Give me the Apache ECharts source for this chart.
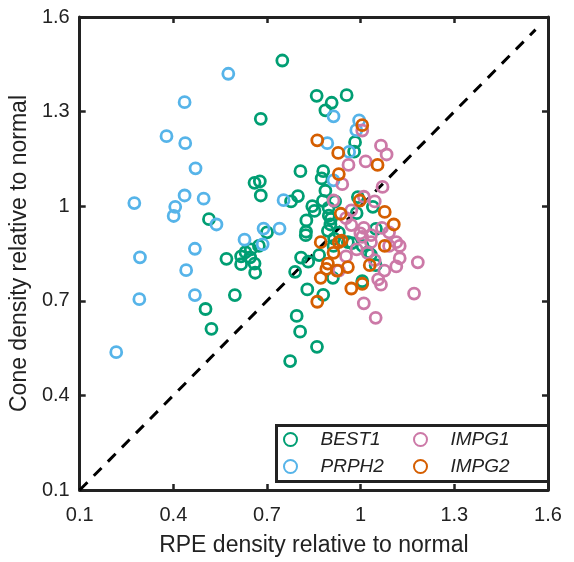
<!DOCTYPE html>
<html>
<head>
<meta charset="utf-8">
<script src="https://cdn.jsdelivr.net/npm/echarts@6/dist/echarts.min.js"></script>
<style>
  html, body { margin: 0; padding: 0; background: #fff; }
  #chart { width: 574px; height: 562px; }
</style>
</head>
<body>
<div id="chart"></div>
<script>
// [RPE density, cone density] pairs, relative to normal
var best1 = [
  [0.749, 1.462], [0.859, 1.350], [0.955, 1.352], [0.907, 1.328], [0.887, 1.304],
  [0.680, 1.277], [0.982, 1.203], [0.979, 1.173], [0.807, 1.111], [0.880, 1.111],
  [0.875, 1.088], [0.660, 1.074], [0.677, 1.079], [0.680, 1.034], [0.799, 1.032],
  [0.777, 1.015], [0.887, 1.049], [0.845, 1.000], [0.852, 0.985], [0.879, 1.017],
  [0.897, 0.995], [0.918, 1.015], [0.991, 1.029], [0.987, 0.978], [1.039, 0.998],
  [0.898, 0.970], [0.903, 0.942], [0.826, 0.955], [0.825, 0.919], [0.824, 0.908],
  [0.895, 0.922], [0.930, 0.916], [1.049, 0.928], [0.959, 0.886], [0.972, 0.883],
  [1.006, 0.874], [1.024, 0.854], [1.033, 0.846], [1.048, 0.813], [1.005, 0.762],
  [0.911, 0.773], [0.514, 0.959], [0.570, 0.833], [0.617, 0.841], [0.617, 0.816],
  [0.631, 0.854], [0.648, 0.863], [0.646, 0.838], [0.660, 0.818], [0.674, 0.874],
  [0.662, 0.789], [0.700, 0.917], [0.597, 0.718], [0.503, 0.674], [0.522, 0.611],
  [0.795, 0.652], [0.806, 0.602], [0.860, 0.554], [0.774, 0.509], [0.829, 0.736],
  [0.880, 0.719], [0.790, 0.792], [0.809, 0.837], [0.832, 0.824], [0.867, 0.845],
  [0.913, 0.874], [0.915, 0.897], [0.905, 0.960]
];
var prph2 = [
  [0.576, 1.420], [0.436, 1.330], [0.378, 1.222], [0.438, 1.200], [0.471, 1.120],
  [0.275, 1.010], [0.406, 0.998], [0.401, 0.969], [0.436, 1.034], [0.497, 1.024],
  [0.538, 0.942], [0.293, 0.838], [0.469, 0.865], [0.441, 0.797], [0.469, 0.718],
  [0.291, 0.705], [0.217, 0.537], [0.628, 0.894], [0.689, 0.929], [0.740, 0.929],
  [0.753, 1.019], [0.913, 1.285], [0.995, 1.272], [0.986, 1.241], [0.893, 1.200],
  [0.963, 1.172], [0.913, 1.082], [0.686, 0.879]
];
var impg1 = [
  [1.005, 1.240], [1.065, 1.192], [1.083, 1.164], [0.961, 1.131], [1.016, 1.142],
  [0.941, 1.070], [1.070, 1.061], [0.913, 1.018], [1.010, 1.030], [1.045, 1.015],
  [0.970, 0.987], [0.953, 0.962], [0.970, 0.940], [1.010, 0.931], [0.999, 0.914],
  [1.033, 0.908], [1.068, 0.931], [1.091, 0.917], [1.114, 0.886], [1.125, 0.874],
  [1.125, 0.835], [1.114, 0.809], [1.076, 0.796], [1.056, 0.768], [1.065, 0.751],
  [1.183, 0.822], [1.171, 0.723], [1.010, 0.692], [1.048, 0.646], [0.930, 0.796],
  [0.953, 0.841], [0.987, 0.863], [1.022, 0.852], [1.045, 0.829], [1.033, 0.886],
  [1.005, 0.903], [1.091, 0.874]
];
var impg2 = [
  [1.005, 1.257], [0.861, 1.209], [0.928, 1.169], [1.054, 1.131], [0.930, 1.102],
  [0.997, 1.018], [0.936, 0.976], [1.077, 0.982], [1.106, 0.942], [1.077, 0.874],
  [0.872, 0.886], [0.930, 0.886], [0.939, 0.891], [0.913, 0.852], [0.895, 0.818],
  [0.890, 0.801], [0.872, 0.773], [0.924, 0.796], [0.959, 0.807], [0.970, 0.739],
  [1.005, 0.754], [1.029, 0.813], [0.861, 0.697]
];
var unityLine = [[0.1, 0.1], [1.56, 1.56]];

var colors = { BEST1: '#009E73', PRPH2: '#56B4E9', IMPG1: '#CC79A7', IMPG2: '#D55E00' };
var font = 'Liberation Sans, Arial, sans-serif';

function ring(name, data) {
  return {
    name: name, type: 'scatter', data: data,
    symbol: 'circle', symbolSize: 11,
    itemStyle: { color: 'rgba(255,255,255,0)', borderColor: colors[name], borderWidth: 2.8, opacity: 1 },
    emphasis: { disabled: true }, z: 3
  };
}

function axisBase(extra) {
  var a = {
    type: 'value', min: 0.1, max: 1.6, interval: 0.3,
    axisLine: { show: true, onZero: false, lineStyle: { color: '#222', width: 3 } },
    axisTick: { show: true, inside: true, length: 6, lineStyle: { color: '#222', width: 2.5 } },
    splitLine: { show: false },
    axisLabel: { show: false }
  };
  for (var k in extra) a[k] = extra[k];
  return a;
}

var legendText = { fontFamily: font, fontSize: 19, fontStyle: 'italic', color: '#222' };

var chart = echarts.init(document.getElementById('chart'));
chart.setOption({
  backgroundColor: '#fff',
  animation: false,
  grid: { left: 78, top: 17, width: 470, height: 477 },
  xAxis: [
    axisBase({
      position: 'bottom',
      name: 'RPE density relative to normal', nameLocation: 'middle', nameGap: 44,
      nameTextStyle: { fontFamily: font, fontSize: 23, color: '#222' },
      axisLabel: { show: true, margin: 15, fontFamily: font, fontSize: 20, color: '#222' }
    }),
    axisBase({ position: 'top' })
  ],
  yAxis: [
    axisBase({
      position: 'left',
      name: 'Cone density relative to normal', nameLocation: 'middle', nameGap: 41,
      nameTextStyle: { fontFamily: font, fontSize: 23, color: '#222' },
      axisLabel: { show: true, margin: 10, fontFamily: font, fontSize: 20, color: '#222' }
    }),
    axisBase({ position: 'right' })
  ],
  legend: [
    {
      data: ['BEST1', 'PRPH2'], orient: 'vertical', left: 283, top: 430, padding: 0,
      itemWidth: 50, itemHeight: 13, itemGap: 8, textStyle: legendText,
      selectedMode: false
    },
    {
      data: ['IMPG1', 'IMPG2'], orient: 'vertical', left: 413, top: 430, padding: 0,
      itemWidth: 50, itemHeight: 13, itemGap: 8, textStyle: legendText,
      selectedMode: false
    }
  ],
  graphic: [{
    type: 'rect', left: 275, top: 424, z: 10,
    shape: { width: 272, height: 56 },
    style: { fill: 'rgba(255,255,255,0)', stroke: '#222', lineWidth: 3 }
  }],
  series: [
    {
      type: 'line', data: unityLine, symbol: 'none', silent: true, z: 2,
      lineStyle: { color: '#000', width: 3, type: [11, 9] }
    },
    ring('BEST1', best1),
    ring('PRPH2', prph2),
    ring('IMPG1', impg1),
    ring('IMPG2', impg2)
  ]
});
</script>
</body>
</html>
